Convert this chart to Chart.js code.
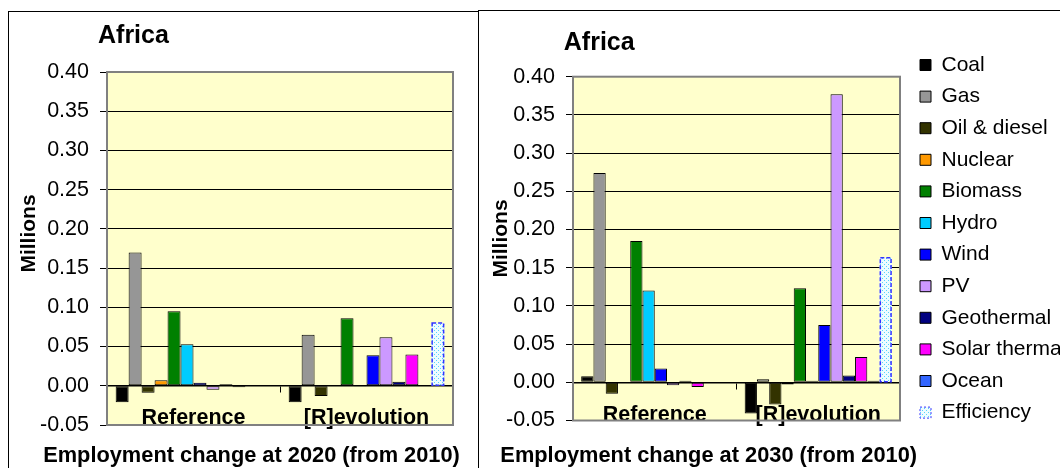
<!DOCTYPE html>
<html>
<head>
<meta charset="utf-8">
<script src="https://cdn.jsdelivr.net/npm/chart.js@4.4.1/dist/chart.umd.min.js"></script>
<style>
  html, body { margin: 0; padding: 0; background: #fff; }
  #page { position: relative; width: 1060px; height: 468px; overflow: hidden; }
  canvas { position: absolute; top: 0; }
  #c2020 { left: 0; }
  #c2030 { left: 480px; }
  .frame { position: absolute; border: 1px solid #000; }
</style>
</head>
<body>
<div id="page">
  <div class="frame" style="left:8px;top:11px;width:469px;height:520px;"></div>
  <div class="frame" style="left:478px;top:10px;width:640px;height:520px;"></div>
  <canvas id="c2020" width="478" height="468"></canvas>
  <canvas id="c2030" width="600" height="468"></canvas>
</div>
<script>
// categories and series
const categories = ['Reference', '[R]evolution'];
const sources = ['Coal', 'Gas', 'Oil & diesel', 'Nuclear', 'Biomass', 'Hydro', 'Wind', 'PV',
                 'Geothermal', 'Solar thermal', 'Ocean', 'Efficiency'];
const colours = ['#000000', '#969696', '#333300', '#FF9900', '#008000', '#00CCFF', '#0000FF',
                 '#CC99FF', '#000080', '#FF00FF', '#3366FF', null];

// employment change, millions of jobs (order = sources)
const ref2020 = [-0.021, 0.170, -0.009, 0.007, 0.095, 0.053, 0.004, -0.005, 0.002, -0.002, 0, 0];
const rev2020 = [-0.021, 0.065, -0.013, 0, 0.086, -0.001, 0.039, 0.062, 0.005, 0.040, 0.001, 0.080];
const ref2030 = [0.008, 0.274, -0.015, 0, 0.185, 0.120, 0.018, -0.004, 0.002, -0.006, 0, 0];
const rev2030 = [-0.041, 0.004, -0.029, -0.003, 0.123, 0.002, 0.075, 0.377, 0.009, 0.033, 0.002, 0.163];

const yMin = -0.05, yMax = 0.40, yStep = 0.05;

Chart.defaults.font.family = '"Liberation Sans", Arial, sans-serif';
Chart.defaults.color = '#000';

// dotted fill used for the efficiency bars
function dotPattern() {
  const c = document.createElement('canvas');
  c.width = 4; c.height = 4;
  const g = c.getContext('2d');
  g.fillStyle = '#EEFCFF';
  g.fillRect(0, 0, 4, 4);
  g.fillStyle = '#55D4FF';
  g.fillRect(0, 0, 1, 1);
  g.fillRect(2, 2, 1, 1);
  return g.createPattern(c, 'repeat');
}
const effFill = dotPattern();

function makeDatasets(refVals, revVals) {
  return sources.map((name, i) => ({
    label: name,
    data: [refVals[i], revVals[i]],
    backgroundColor: colours[i] || effFill,
    borderColor: '#000',
    borderWidth: colours[i] ? 1 : 0,
    borderSkipped: false,
    categoryPercentage: 0.9,
    barPercentage: 1.0
  }));
}

function xScale() {
  return {
    position: { y: 0 },
    grid: { drawOnChartArea: false, drawTicks: true, tickLength: 6, color: '#000', offset: true },
    border: { color: '#000', width: 1.5 },
    ticks: { color: '#000', font: { size: 21.5, weight: 'bold' }, padding: 13.5, maxRotation: 0, autoSkip: false }
  };
}

function yScale(w) {
  return {
    min: yMin, max: yMax,
    afterFit(s) { s.width = w; },
    grid: { color: '#000', lineWidth: 1, tickLength: 7, drawTicks: true },
    border: { display: false },
    ticks: { stepSize: yStep, color: '#000', font: { size: 21.5 }, padding: 11,
             callback: v => Number(v).toFixed(2) }
  };
}

// plot background, frame, dashed efficiency outline and the free text
function panel(texts) {
  return {
    id: 'panel',
    beforeDraw(chart) {
      const { ctx, chartArea: a } = chart;
      ctx.save();
      ctx.fillStyle = '#FFFFCC';
      ctx.fillRect(a.left, a.top, a.width, a.height);
      ctx.restore();
    },
    beforeDatasetsDraw(chart) {
      const { ctx, chartArea: a } = chart;
      ctx.save();
      ctx.strokeStyle = '#808080';
      ctx.lineWidth = 2;
      ctx.strokeRect(a.left, a.top, a.width, a.height);
      ctx.restore();
    },
    afterDatasetsDraw(chart) {
      const ctx = chart.ctx;
      const meta = chart.getDatasetMeta(sources.length - 1);
      ctx.save();
      ctx.strokeStyle = '#3333FF';
      ctx.lineWidth = 1.5;
      ctx.setLineDash([4, 2]);
      meta.data.forEach(el => {
        const p = el.getProps(['x', 'y', 'base', 'width'], true);
        if (Math.abs(p.base - p.y) < 1) return;
        const top = Math.min(p.y, p.base);
        ctx.strokeRect(p.x - p.width / 2 + 0.75, top, p.width - 1.5, Math.abs(p.base - p.y));
      });
      ctx.restore();
    },
    afterDraw(chart) {
      const ctx = chart.ctx;
      texts.forEach(t => {
        ctx.save();
        ctx.font = t.font;
        ctx.fillStyle = '#000';
        ctx.textBaseline = 'alphabetic';
        ctx.textAlign = t.align;
        ctx.translate(t.x, t.y);
        if (t.rotate) ctx.rotate(-Math.PI / 2);
        ctx.fillText(t.text, 0, 0);
        ctx.restore();
      });
    }
  };
}

const bold = size => 'bold ' + size + 'px "Liberation Sans", Arial, sans-serif';

new Chart(document.getElementById('c2020'), {
  type: 'bar',
  data: { labels: categories, datasets: makeDatasets(ref2020, rev2020) },
  options: {
    responsive: false,
    animation: false,
    layout: { padding: { left: 0, top: 72, right: 25, bottom: 43 } },
    plugins: { legend: { display: false }, tooltip: { enabled: false } },
    scales: { x: xScale(), y: yScale(107) }
  },
  plugins: [panel([
    { text: 'Africa', x: 98, y: 42.5, font: bold(25), align: 'left' },
    { text: 'Millions', x: 35, y: 233.5, font: bold(21), align: 'center', rotate: true },
    { text: 'Employment change at 2020 (from 2010)', x: 251.5, y: 462, font: bold(21.8), align: 'center' }
  ])]
});

new Chart(document.getElementById('c2030'), {
  type: 'bar',
  data: { labels: categories, datasets: makeDatasets(ref2030, rev2030) },
  options: {
    responsive: false,
    animation: false,
    layout: { padding: { left: 0, top: 43.9, right: 10.6, bottom: 17.5 } },
    plugins: {
      tooltip: { enabled: false },
      title: { display: true, text: '', font: { size: 10 }, padding: { top: 20.8, bottom: 0 } },
      subtitle: { display: true, text: '', position: 'bottom', font: { size: 10 }, padding: { top: 18, bottom: 0 } },
      legend: {
        position: 'right',
        align: 'start',
        maxWidth: 160,
        labels: {
          boxWidth: 11, boxHeight: 11, padding: 10.6, color: '#000', font: { size: 21 },
          generateLabels(chart) {
            const items = Chart.defaults.plugins.legend.labels.generateLabels(chart);
            items.forEach(it => { it.lineWidth = 1; it.strokeStyle = '#000'; });
            const eff = items[items.length - 1];
            eff.strokeStyle = '#3333FF';
            eff.lineDash = [2, 2];
            return items;
          }
        }
      }
    },
    scales: {
      x: xScale(),
      y: yScale(93),
      gap: {
        position: 'right',
        afterFit(s) { s.width = 9.4; },
        grid: { display: false },
        border: { display: false },
        ticks: { display: false }
      }
    }
  },
  plugins: [panel([
    { text: 'Africa', x: 83.8, y: 50, font: bold(25), align: 'left' },
    { text: 'Millions', x: 26.5, y: 238.5, font: bold(21), align: 'center', rotate: true },
    { text: 'Employment change at 2030 (from 2010)', x: 228.7, y: 462, font: bold(21.8), align: 'center' }
  ])]
});
</script>
</body>
</html>
